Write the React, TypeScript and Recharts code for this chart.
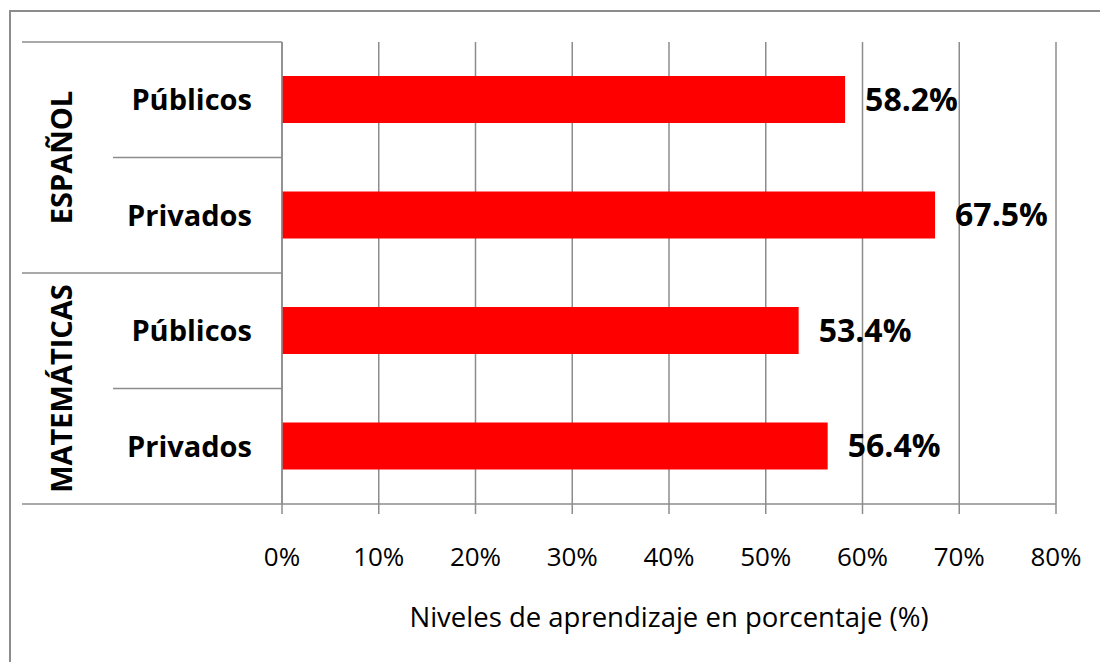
import React from 'react';
import {
  BarChart,
  Bar,
  XAxis,
  YAxis,
  CartesianGrid,
  LabelList,
} from 'recharts';

const subjects = ['ESPAÑOL', 'ESPAÑOL', 'MATEMÁTICAS', 'MATEMÁTICAS'];
const schoolTypes = ['Públicos', 'Privados', 'Públicos', 'Privados'];
const levels = [58.2, 67.5, 53.4, 56.4];
const xTicks = [0, 10, 20, 30, 40, 50, 60, 70, 80];
const xTitle = 'Niveles de aprendizaje en porcentaje (%)';

const data = schoolTypes.map((t, i) => ({
  key: `${subjects[i]}-${t}`,
  subject: subjects[i],
  type: t,
  value: levels[i],
}));

const W = 1100;
const H = 662;
const M_TOP = 42;
const M_RIGHT = 44;
const Y_W = 282;
const X_H = 158;
const BAND = (H - M_TOP - X_H) / data.length;
const GRAY = '#8c8c8c';
const FONT = '"Open Sans", Arial, sans-serif';

const CategoryTick = (props: any) => {
  const { y, index } = props;
  const row = data[index];
  const firstOfGroup = index === 0 || data[index - 1].subject !== row.subject;
  const last = index === data.length - 1;
  const top = y - BAND / 2;
  return (
    <g>
      <line x1={firstOfGroup ? 22 : 113} x2={Y_W} y1={top} y2={top} stroke={GRAY} strokeWidth={1.5} />
      {last && (
        <line x1={22} x2={Y_W} y1={y + BAND / 2} y2={y + BAND / 2} stroke={GRAY} strokeWidth={1.5} />
      )}
      <text
        x={252}
        y={y}
        dy="0.36em"
        textAnchor="end"
        fontFamily={FONT}
        fontWeight={700}
        fontSize={29}
        fill="#000"
      >
        {row.type}
      </text>
      {firstOfGroup && (
        <text
          x={0}
          y={0}
          transform={`translate(62, ${y + BAND / 2}) rotate(-90)`}
          dy="0.36em"
          textAnchor="middle"
          fontFamily={FONT}
          fontWeight={700}
          fontSize={29}
          fill="#000"
        >
          {row.subject}
        </text>
      )}
    </g>
  );
};

const PercentTick = (props: any) => {
  const { x, payload } = props;
  return (
    <text x={x} y={566} textAnchor="middle" fontFamily={FONT} fontSize={26} fill="#000">
      {`${payload.value}%`}
    </text>
  );
};

export default function App() {
  return (
    <div
      style={{
        position: 'absolute',
        left: 0,
        top: 0,
        width: W,
        height: H,
        background: '#fff',
        overflow: 'hidden',
      }}
    >
      {/* outer frame of the chart area */}
      <div
        style={{
          position: 'absolute',
          left: 9,
          top: 10,
          width: W,
          height: H,
          borderTop: `2px solid ${GRAY}`,
          borderLeft: `2px solid ${GRAY}`,
        }}
      />
      <div style={{ position: 'absolute', left: 0, top: 0 }}>
        <BarChart
          width={W}
          height={H}
          data={data}
          layout="vertical"
          margin={{ top: M_TOP, right: M_RIGHT, bottom: 0, left: 0 }}
        >
          <CartesianGrid horizontal={false} stroke={GRAY} strokeWidth={1.5} />
          <XAxis
            type="number"
            domain={[0, 80]}
            ticks={xTicks}
            interval={0}
            height={X_H}
            axisLine={{ stroke: GRAY, strokeWidth: 1.5 }}
            tickLine={{ stroke: GRAY, strokeWidth: 1.5 }}
            tickSize={10}
            tick={<PercentTick />}
            label={{
              value: xTitle,
              position: 'insideBottom',
              offset: 35,
              fontFamily: FONT,
              fontSize: 27.5,
              fill: '#000',
            }}
          />
          <YAxis
            type="category"
            dataKey="key"
            width={Y_W}
            axisLine={{ stroke: GRAY, strokeWidth: 1.5 }}
            tickLine={false}
            interval={0}
            tick={<CategoryTick />}
          />
          <Bar dataKey="value" fill="#ff0000" barSize={47} isAnimationActive={false}>
            <LabelList
              dataKey="value"
              position="right"
              offset={20}
              formatter={(v: any) => `${Number(v).toFixed(1)}%`}
              fill="#000"
              fontFamily={FONT}
              fontWeight={700}
              fontSize={32}
            />
          </Bar>
        </BarChart>
      </div>
    </div>
  );
}
